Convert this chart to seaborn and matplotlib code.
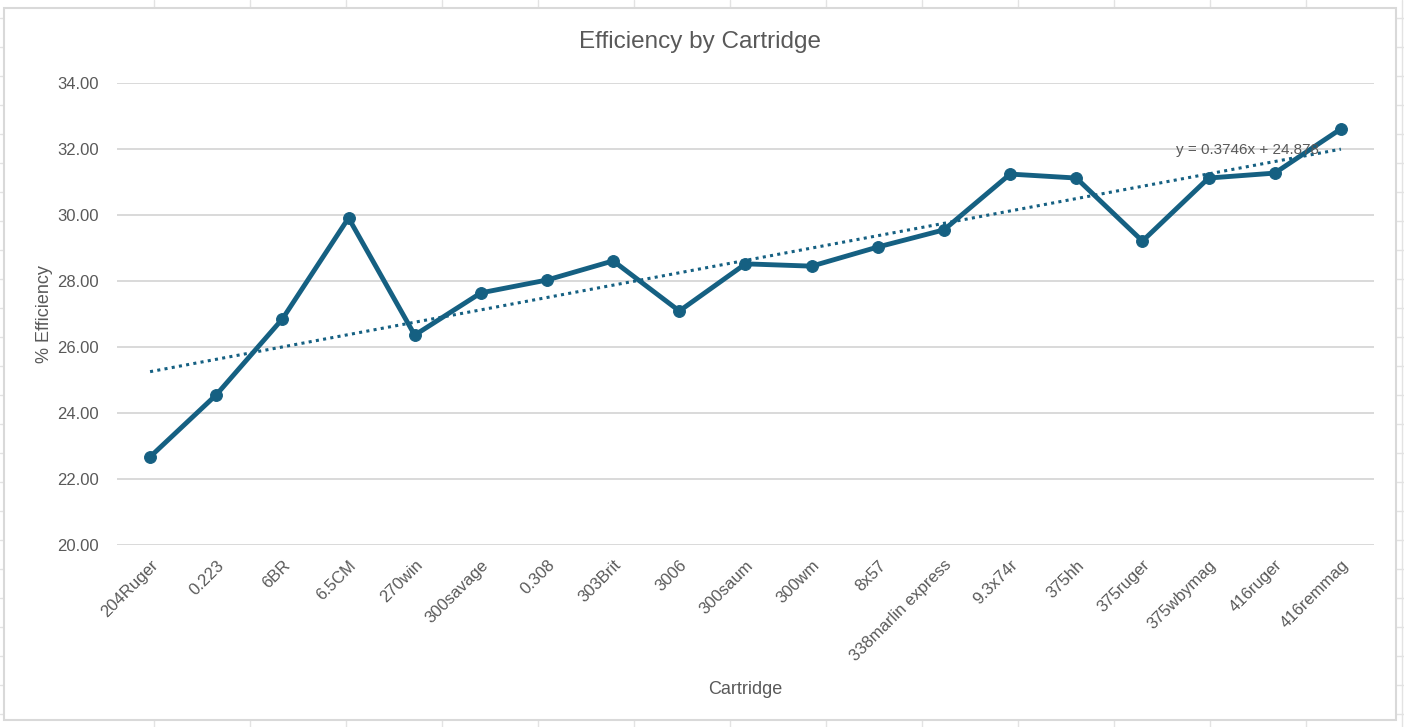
import numpy as np
import pandas as pd
import matplotlib
matplotlib.use("Agg")
import matplotlib.pyplot as plt
from matplotlib.lines import Line2D
from matplotlib.patches import Rectangle
import seaborn as sns

# --- data ---
cartridges = ["204Ruger", "0.223", "6BR", "6.5CM", "270win", "300savage", "0.308",
              "303Brit", "3006", "300saum", "300wm", "8x57", "338marlin express",
              "9.3x74r", "375hh", "375ruger", "375wbymag", "416ruger", "416remmag"]
efficiency = [22.67, 24.55, 26.85, 29.91, 26.36, 27.64, 28.03, 28.61, 27.09, 28.52,
              28.45, 29.03, 29.55, 31.24, 31.12, 29.21, 31.12, 31.27, 32.61]
trend_slope = 0.3746
trend_intercept = 24.878
y_ticks = [20, 22, 24, 26, 28, 30, 32, 34]

df = pd.DataFrame({"Cartridge": cartridges, "Efficiency": efficiency})
df["pos"] = np.arange(len(df))

line_color = "#156082"
text_color = "#595959"
grid_color = "#d9d9d9"

sns.set_style("white")
plt.rcParams["font.family"] = ["Liberation Sans", "DejaVu Sans"]

W, H = 1404, 727
fig = plt.figure(figsize=(W / 100, H / 100), dpi=100)

# spreadsheet cell lines behind the chart
for x in np.arange(154, W, 96):
    fig.add_artist(Line2D([x / W, x / W], [0, 1], color="#e3e3e3", lw=1, zorder=-3))
for y in np.arange(17.7, H, 29):
    fig.add_artist(Line2D([0, 1], [1 - y / H, 1 - y / H], color="#e3e3e3", lw=1, zorder=-3))
fig.add_artist(Rectangle((4 / W, 1 - 720 / H), 1392 / W, 712 / H, transform=fig.transFigure,
                         facecolor="white", edgecolor=grid_color, lw=1.5, zorder=-2))

ax = fig.add_axes([117 / W, 1 - 545 / H, (1374 - 117) / W, (545 - 83) / H])
ax.patch.set_alpha(0)

sns.lineplot(data=df, x="pos", y="Efficiency", ax=ax, color=line_color, lw=3.5,
             marker="o", markersize=8.5, markeredgecolor=line_color, sort=False, zorder=3)

# linear trendline (Excel)
tx = df["pos"].to_numpy()
ax.plot(tx, trend_slope * (tx + 1) + trend_intercept, color=line_color, lw=2.2,
        linestyle=(0, (1, 1.4)), zorder=2)
ax.text(15.5, 31.97, "y = 0.3746x + 24.878", color=text_color, fontsize=11,
        ha="left", va="center", zorder=4)

ax.set_xlim(-0.5, len(cartridges) - 0.5)
ax.set_ylim(20, 34)
ax.set_yticks(y_ticks)
ax.set_yticklabels([f"{v:.2f}" for v in y_ticks])
ax.set_xticks(df["pos"])
ax.set_xticklabels(cartridges, rotation=45, ha="right", rotation_mode="anchor")
ax.yaxis.grid(True, color=grid_color, lw=1.4)
ax.xaxis.grid(False)
for s in ax.spines.values():
    s.set_visible(False)
ax.tick_params(axis="y", length=0, pad=13, labelsize=12, labelcolor=text_color)
ax.tick_params(axis="x", length=0, pad=9, labelsize=12, labelcolor=text_color)

fig.text(700 / W, 1 - 42 / H, "Efficiency by Cartridge", fontsize=17.5, color=text_color,
         ha="center", va="center")
ax.set_xlabel("Cartridge", fontsize=13, color=text_color, labelpad=12)
ax.set_ylabel("% Efficiency", fontsize=13, color=text_color, labelpad=3)

fig.savefig("out.png", dpi=100)
